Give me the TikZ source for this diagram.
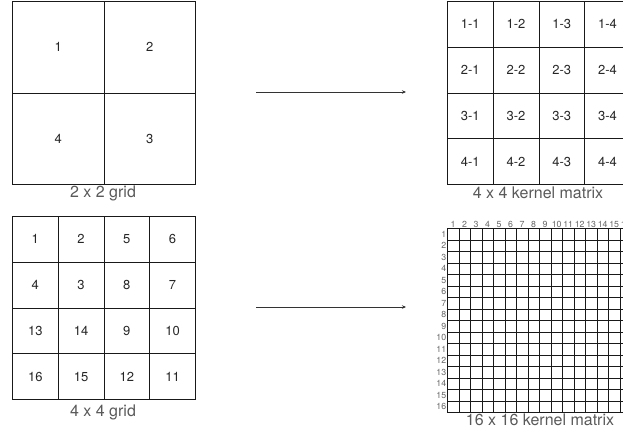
\documentclass[tikz,border=0pt]{standalone}
\usepackage{fontspec}
\setmainfont{TeX Gyre Heros}
\usetikzlibrary{arrows.meta}
\tikzset{
  cell/.style={draw=black!90,line width=0.8pt,minimum size=#1,inner sep=0pt,
    anchor=north west,text=black!85,font=\fontsize{13}{13}\selectfont},
  small/.style={text=black!60,inner sep=0.6pt,font=\fontsize{8.8}{8.8}\selectfont},
  caption/.style={text=black!65,inner sep=0pt,font=\fontsize{16}{16}\selectfont},
  conn/.style={-{Stealth[length=4pt,width=3.5pt]},line width=0.8pt,draw=black!80}
}
\begin{document}
\begin{tikzpicture}[x=1pt,y=-1pt]
\useasboundingbox (0,0) rectangle (623,434);
% 2 x 2 grid
\foreach \row [count=\r] in {{1,2},{4,3}}
  \foreach \t [count=\c] in \row
    \node[cell=91.5pt] (g\r\c) at ({12+91.5*(\c-1)},{1+91.5*(\r-1)}) {\t};
\node[caption] (capg2) at (103,193) {2 x 2 grid};
% 4 x 4 kernel matrix
\foreach \r in {1,...,4}
  \foreach \c in {1,...,4}
    \node[cell=45.75pt] (k\r\c) at ({447+45.75*(\c-1)},{1+45.75*(\r-1)}) {\r-\c};
\node[caption] (capk4) at (538,193) {4 x 4 kernel matrix};
% 4 x 4 grid
\foreach \row [count=\r] in {{1,2,5,6},{4,3,8,7},{13,14,9,10},{16,15,12,11}}
  \foreach \t [count=\c] in \row
    \node[cell=45.75pt] (h\r\c) at ({12+45.75*(\c-1)},{216+45.75*(\r-1)}) {\t};
\node[caption] (capg4) at (103,412) {4 x 4 grid};
% 16 x 16 kernel matrix
\foreach \r in {1,...,16}
  \foreach \c in {1,...,16}
    \node[cell=11.5pt] (m\r-\c) at ({447+11.5*(\c-1)},{228+11.5*(\r-1)}) {};
\foreach \i in {1,...,16}{
  \node[small,anchor=east] (rl\i) at (m\i-1.west) {\i};
  \node[small,anchor=south] (cl\i) at (m1-\i.north) {\i};
}
\node[caption] (capk16) at (540,420) {16 x 16 kernel matrix};
% arrows
\coordinate (a1) at (256,92);
\coordinate (a2) at (406,92);
\coordinate (b1) at (256,307);
\coordinate (b2) at (406,307);
\draw[conn] (a1) -- (a2);
\draw[conn] (b1) -- (b2);
\end{tikzpicture}
\end{document}
